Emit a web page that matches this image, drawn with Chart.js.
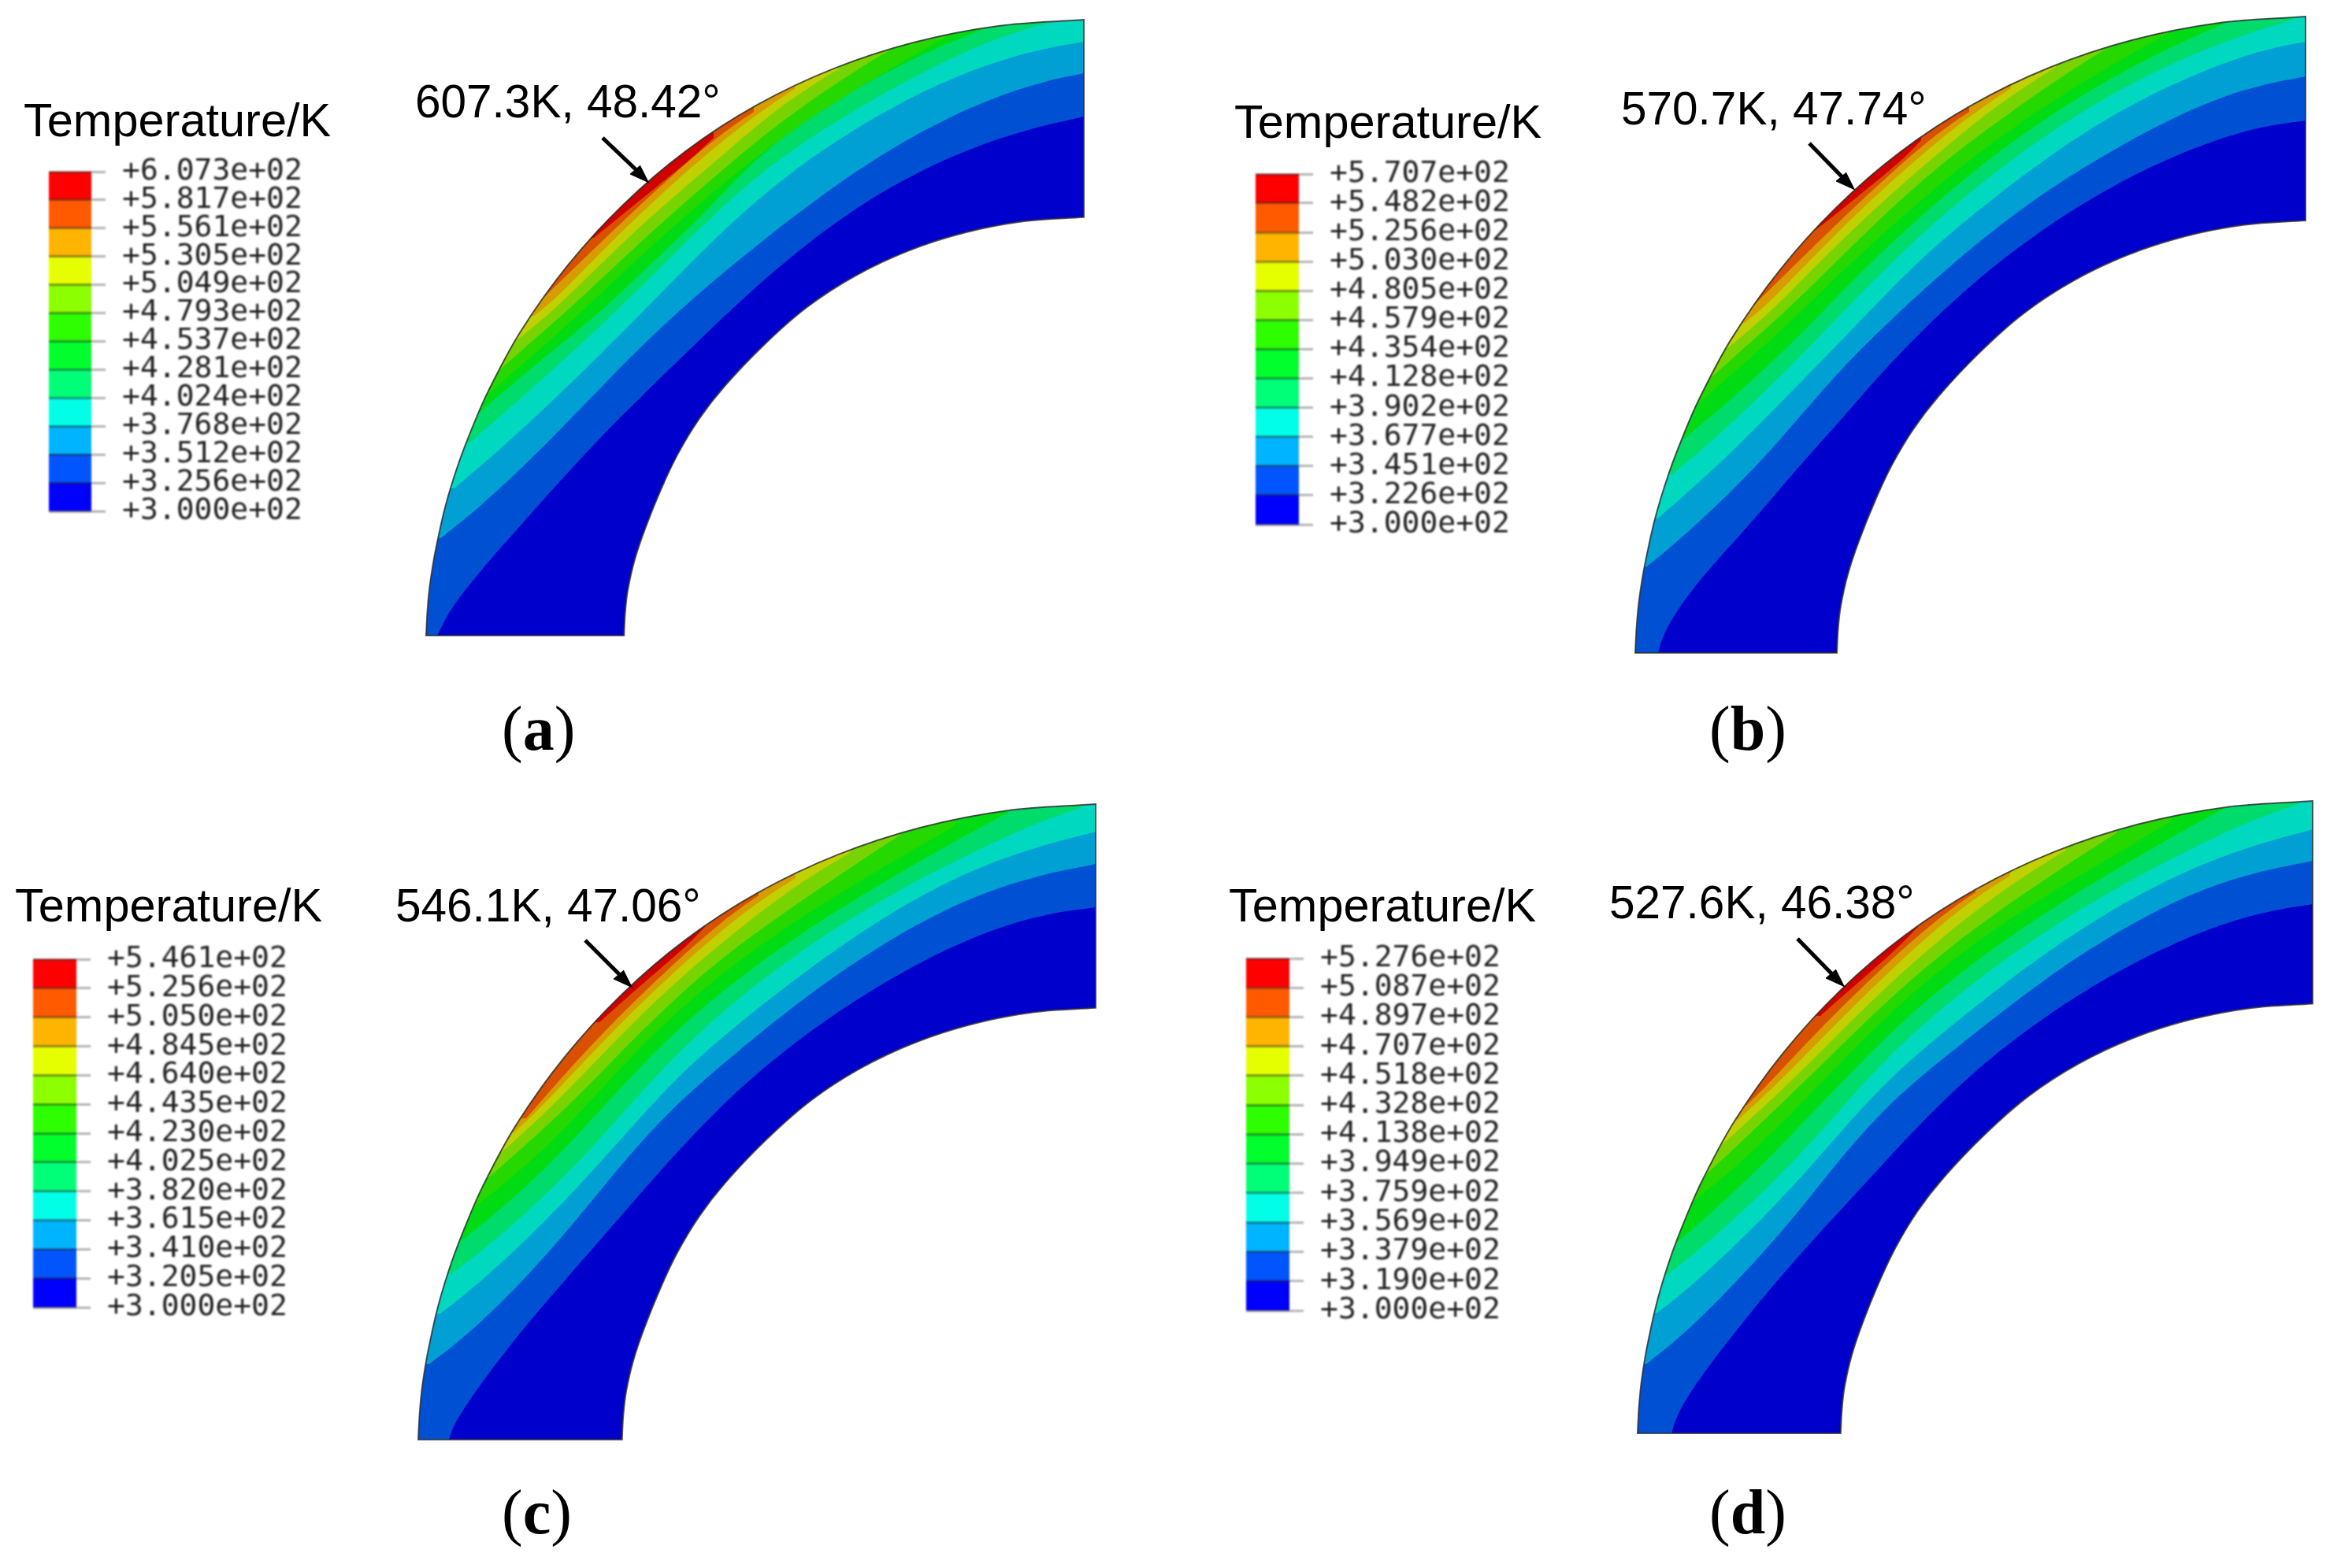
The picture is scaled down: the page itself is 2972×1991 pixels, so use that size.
<!DOCTYPE html>
<html><head><meta charset="utf-8">
<style>
html,body{margin:0;padding:0;background:#fff;width:2972px;height:1991px;overflow:hidden}
canvas{position:absolute}
.ring{filter:blur(.6px)}
.leg{filter:blur(.8px)}
.t{position:absolute;white-space:nowrap;line-height:1;color:#000;font-family:"Liberation Sans",Arial,sans-serif}
.cap{position:absolute;white-space:nowrap;line-height:1;color:#000;font-family:"Liberation Serif",serif;font-size:80px}
.cap b{font-weight:700}
</style>
<script src="https://cdn.jsdelivr.net/npm/chart.js@4"></script>
</head><body>
<script>
// Legend levels (K)
const levelsA=[300.0,325.6,351.2,376.8,402.4,428.1,453.7,479.3,504.9,530.5,556.1,581.7,607.3];
const levelsB=[300.0,322.6,345.1,367.7,390.2,412.8,435.4,457.9,480.5,503.0,525.6,548.2,570.7];
const levelsC=[300.0,320.5,341.0,361.5,382.0,402.5,423.0,443.5,464.0,484.5,505.0,525.6,546.1];
const levelsD=[300.0,319.0,337.9,356.9,375.9,394.9,413.8,432.8,451.8,470.7,489.7,508.7,527.6];
const legendColors=['#0000ff','#0055ff','#00b4ff','#00ffe6','#00ff78','#00ff2d','#2dff00','#8cff00','#e6ff00','#ffb400','#ff5a00','#ff0000'];
const bandColors=['#0000cc','#0050d4','#00a0d4','#00d8c0','#00dc6c','#00dc14','#24d800','#78d400','#c0d000','#d89c00','#d85000','#d00000'];

// Ring section outline, measured on panel (b): distance left of right edge, height above base
const outerArc=[[851,0],[849.5,30],[847,59],[843,88],[838,116],[826,170],[809,226],[790,276],[770,322],[728.5,399.4],[667.3,486.2],[595.7,565.6],[514.2,636.2],[423.2,695.9],[324.4,743.5],[219.6,778.3],[110.9,799.8],[0,808]];
const innerArc=[[595,0],[593.5,30],[590,60],[581,100],[567,142],[547,192],[526,237],[498,284],[465,327],[413.6,381.6],[358.2,430.8],[295.4,472.1],[226.7,504.9],[153.5,528.7],[77.5,543.4],[0,549]];

// Isotherms: contour between band i and band i+1, bottom-left to top-right
const contoursA=[
 [[821,0],[821,20],[776,74],[709,144],[663,200],[609,260],[559,307],[509,350],[463,407],[366,487],[303,540],[223,587],[136,625],[69,647],[0,659]],
 [[816,124],[776,154],[709,210],[626,304],[559,372],[523,407],[429,487],[336,559],[269,607],[183,657],[103,692],[36,709],[0,714]],
 [[799,187],[743,230],[676,297],[593,377],[563,407],[500,473],[436,540],[369,594],[303,637],[236,677],[169,710],[103,735],[36,750],[0,754]],
 [[781,244],[743,274],[676,337],[596,407],[549,454],[476,530],[436,570],[369,620],[303,664],[203,717],[136,752],[69,775],[36,779],[14,785]],
 [[766,284],[726,320],[689,350],[643,387],[616,407],[579,444],[539,484],[497,519],[448,567],[436,594],[369,647],[303,690],[236,724],[153,764],[103,779]],
 [[757,306],[726,335],[687,364],[647,403],[602,444],[551,496],[497,538],[465,570],[416,609],[367,645],[301,689],[235,725],[196,749],[171,762]],
 [[741,338],[713,364],[681,389],[647,422],[618,444],[559,509],[497,556],[465,585],[416,631],[367,665],[318,699],[269,732],[242,746]],
 [[720,375],[694,396],[667,418],[638,444],[569,523],[497,576],[465,602],[416,650],[383,674],[350,696],[311,720]],
 [[698,406],[677,418],[654,444],[577,529],[497,596],[465,623],[432,650],[399,674],[367,694]],
 [[689,426],[667,444],[589,528],[497,607],[465,635],[441,650],[419,665]],
 [[622,505],[600,522],[575,545],[543,568],[509,597],[485,617],[470,632]]
];
const contoursB=[
 [[822,0],[822,12],[810,39],[780,82],[750,116],[714,152],[680,192],[654,226],[624,259],[594,289],[564,326],[537,359],[500,396],[440,456],[390,499],[340,532],[290,569],[240,596],[190,622],[140,642],[90,662],[40,673],[0,676]],
 [[837,109],[817,122],[767,169],[717,216],[680,252],[634,312],[594,356],[557,396],[517,429],[490,459],[457,486],[407,529],[357,569],[307,602],[240,642],[174,679],[107,709],[57,724],[0,732]],
 [[822,171],[790,199],[747,236],[700,282],[660,326],[617,366],[580,409],[534,451],[507,486],[457,529],[407,569],[340,622],[274,669],[207,706],[140,736],[74,762],[40,770],[0,776]],
 [[805,226],[767,256],[734,286],[690,329],[650,366],[617,402],[580,442],[560,459],[507,517],[457,559],[407,602],[340,652],[274,696],[207,732],[157,754],[107,776],[57,792],[24,801],[14,805]],
 [[789,272],[750,302],[707,342],[667,379],[627,416],[590,459],[549,500],[507,536],[457,586],[407,622],[340,676],[274,716],[207,752],[157,776],[114,796],[97,801]],
 [[772,316],[740,346],[700,376],[660,416],[627,446],[614,459],[562,512],[507,556],[474,589],[424,629],[374,666],[307,712],[240,749],[200,774],[174,787]],
 [[755,349],[727,376],[694,402],[660,436],[630,459],[570,526],[507,582],[474,612],[424,652],[374,687],[324,722],[274,756],[247,771]],
 [[734,387],[707,409],[680,432],[650,459],[580,540],[507,599],[474,627],[424,672],[390,696],[357,719],[317,744]],
 [[712,419],[690,432],[667,459],[588,546],[507,616],[474,644],[440,672],[407,696],[374,717]],
 [[702,440],[680,459],[600,545],[507,627],[474,656],[450,672],[427,687]],
 [[622,537],[590,560],[560,588],[530,611],[500,634],[488,651]]
];
const contoursC=[
 [[821,0],[821,8],[811,28],[788,61],[754,108],[714,158],[671,205],[631,251],[594,295],[564,328],[524,375],[488,411],[444,456],[394,496],[344,533],[294,566],[244,596],[178,630],[111,660],[44,673],[0,676]],
 [[846,96],[811,118],[771,158],[728,201],[688,241],[638,305],[584,375],[544,415],[498,458],[461,486],[411,530],[344,583],[278,626],[211,666],[144,696],[78,721],[0,731]],
 [[832,160],[811,175],[771,208],[728,248],[688,288],[651,328],[611,371],[571,418],[534,458],[511,480],[461,523],[394,576],[344,613],[278,660],[211,700],[144,730],[78,756],[0,772]],
 [[818,210],[771,245],[728,281],[684,325],[644,365],[604,408],[564,458],[511,515],[444,570],[378,620],[311,663],[244,703],[178,735],[111,768],[61,790],[18,803]],
 [[804,253],[761,288],[721,321],[681,361],[638,408],[594,458],[552,500],[511,543],[444,593],[378,643],[311,683],[244,723],[178,760],[128,788],[111,796]],
 [[789,295],[748,325],[708,361],[664,401],[618,458],[565,514],[511,563],[461,603],[411,640],[344,683],[278,723],[211,760],[178,780]],
 [[774,330],[738,361],[701,395],[664,428],[634,458],[573,526],[511,583],[461,623],[411,660],[344,703],[278,750],[248,768]],
 [[754,365],[721,395],[684,428],[654,458],[582,541],[511,603],[461,640],[411,683],[378,706],[344,726],[311,746]],
 [[738,390],[704,418],[671,458],[591,547],[511,616],[478,643],[444,673],[411,695],[381,713]],
 [[723,408],[698,435],[681,458],[596,554],[511,626],[478,656],[451,676],[428,691]],
 [[630,530],[596,560],[566,588],[536,612],[511,633],[495,652]]
];
const contoursD=[
 [[814,0],[813,13],[801,40],[771,80],[738,123],[701,170],[664,213],[628,253],[591,293],[554,330],[518,377],[481,407],[444,450],[394,490],[344,527],[294,560],[244,590],[178,623],[111,653],[44,668],[0,672]],
 [[846,88],[811,113],[771,150],[728,197],[688,240],[654,277],[618,327],[581,373],[544,413],[494,460],[461,480],[411,523],[344,577],[278,620],[211,660],[144,692],[78,717],[0,727]],
 [[832,153],[804,173],[771,203],[728,243],[684,287],[644,330],[604,377],[571,417],[528,460],[511,473],[461,517],[394,570],[344,607],[278,653],[211,692],[144,723],[78,750],[0,767]],
 [[818,202],[771,237],[728,277],[684,320],[644,360],[604,403],[561,460],[511,508],[444,563],[378,613],[311,657],[244,697],[178,730],[111,765],[61,787],[18,799]],
 [[806,243],[761,283],[721,317],[681,357],[634,410],[583,460],[548,499],[511,533],[444,590],[378,637],[311,680],[244,720],[178,757],[144,778],[114,792]],
 [[788,293],[748,323],[708,360],[664,403],[608,460],[562,512],[511,557],[461,600],[411,637],[344,680],[278,720],[211,757],[178,778]],
 [[771,328],[734,360],[698,397],[661,433],[628,460],[570,524],[511,577],[461,617],[411,657],[344,700],[278,745],[248,763]],
 [[751,365],[714,400],[681,430],[644,460],[578,536],[511,597],[461,637],[411,678],[378,700],[344,722],[314,740]],
 [[731,397],[698,425],[661,460],[586,544],[511,612],[478,640],[444,670],[411,692],[384,708]],
 [[718,417],[694,438],[676,460],[594,552],[511,623],[478,653],[451,672],[428,687]],
 [[625,530],[592,560],[562,585],[532,612],[511,630],[495,650]]
];
// Arrow tail and tip in each panel
const arrowA=[[611,632],[552,575]], arrowB=[[630,647],[572,588]], arrowC=[[648,634],[588,574]], arrowD=[[654,628],[594,567]];
const arrowHeadOffsets=[[24,11],[11,22]];

const panels=[
 {name:'a',levels:levelsA,contours:contoursA,arrow:arrowA,cx:1376,cy:807,W:835,H:782,titleX:30,titleY:173,barX:62,barW:54,top:218,bottom:649,noteText:'607.3K, 48.42°',noteX:527,noteY:150,capX:637,capY:952},
 {name:'b',levels:levelsB,contours:contoursB,arrow:arrowB,cx:2927,cy:829,W:851,H:808,titleX:1567,titleY:175,barX:1594,barW:55,top:221,bottom:666,noteText:'570.7K, 47.74°',noteX:2058,noteY:159,capX:2170,capY:952},
 {name:'c',levels:levelsC,contours:contoursC,arrow:arrowC,cx:1391,cy:1828,W:860,H:807,titleX:19,titleY:1170,barX:42,barW:55,top:1218,bottom:1660,noteText:'546.1K, 47.06°',noteX:502,noteY:1171,capX:637,capY:1947},
 {name:'d',levels:levelsD,contours:contoursD,arrow:arrowD,cx:2936,cy:1820,W:857,H:803,titleX:1560,titleY:1170,barX:1582,barW:55,top:1217,bottom:1664,noteText:'527.6K, 46.38°',noteX:2043,noteY:1167,capX:2170,capY:1947}
];

const M=130, REF_W=851, REF_H=808;
const pt=([x,y])=>({x,y});
function addCanvas(left,top,w,h,cls){
  const c=document.createElement('canvas');
  c.width=w;c.height=h;c.className=cls;
  c.style.cssText=`left:${left}px;top:${top}px;width:${w}px;height:${h}px`;
  document.body.appendChild(c);return c;
}
function addText(cls,x,y,html,k,size){
  const d=document.createElement('div');d.className=cls;d.innerHTML=html;
  d.style.fontSize=size+'px';
  d.style.left=x+'px';d.style.top=(y-k*size)+'px';document.body.appendChild(d);
}
// Takes the reading noise out of hand-read contour points; end points stay where they were read
function denoise(c){
  let p=c;
  for(let n=0;n<2;n++){
    p=p.map((q,i)=>(i===0||i===p.length-1)?q:[(p[i-1][0]+2*q[0]+p[i+1][0])/4,(p[i-1][1]+2*q[1]+p[i+1][1])/4]);
  }
  return p;
}
// Clip the isotherm bands to the ring, then trace its edge
const ringClip={id:'ringClip',
  afterDatasetDraw(chart,args){
    if(args.index!==chart.data.datasets.length-1)return;
    const p=new Path2D();chart.getDatasetMeta(args.index).dataset.path(p);p.closePath();
    chart.$ringPath=p;chart.ctx.save();chart.ctx.clip(p);
  },
  beforeDatasetDraw(chart,args){
    if(args.index!==1)return;
    chart.ctx.restore();
    chart.ctx.save();chart.ctx.strokeStyle='rgba(50,50,50,.8)';chart.ctx.lineWidth=2;chart.ctx.stroke(chart.$ringPath);chart.ctx.restore();
  }};

panels.forEach(P=>{
  // Ring + bands + arrow
  const sx=P.W/REF_W, sy=P.H/REF_H;
  const scaled=a=>a.map(([x,y])=>[x*sx,y*sy]);
  const o=scaled(outerArc), i=scaled(innerArc).reverse();
  const ring=[o[0],...o,o[o.length-1],i[0],...i,i[i.length-1]].map(pt);
  const band=raw=>{
    const c=denoise(raw);
    const f=c[0],l=c[c.length-1],R=P.W+100,T=P.H+100;
    const a=[l[0],T],b=[R,T],d=[R,f[1]];
    return [f,...c,l,a,a,b,b,d,d,f].map(pt);
  };
  const ds=[];
  const [tail,tip]=P.arrow;
  const head=[tip,[tip[0]+arrowHeadOffsets[0][0],tip[1]+arrowHeadOffsets[0][1]],[tip[0]+arrowHeadOffsets[1][0],tip[1]+arrowHeadOffsets[1][1]]];
  ds.push({data:head.map(pt),showLine:true,fill:'shape',backgroundColor:'#000',borderColor:'#000',borderWidth:1,pointRadius:0,tension:0});
  ds.push({data:[tail,[tip[0]+16,tip[1]+16]].map(pt),showLine:true,fill:false,borderColor:'#000',borderWidth:5,pointRadius:0,tension:0});
  for(let k=P.contours.length-1;k>=0;k--){
    ds.push({data:band(P.contours[k]),showLine:true,fill:'shape',backgroundColor:bandColors[k+1],borderWidth:0,pointRadius:0,tension:.4});
  }
  ds.push({data:ring,showLine:true,fill:'shape',backgroundColor:bandColors[0],borderWidth:0,pointRadius:0,tension:.35});
  const cv=addCanvas(P.cx-P.W-M,P.cy-P.H-M,P.W+2*M,P.H+2*M,'ring');
  new Chart(cv,{type:'scatter',data:{datasets:ds},plugins:[ringClip],options:{
    responsive:false,animation:false,devicePixelRatio:1,layout:{padding:0},
    plugins:{legend:{display:false},tooltip:{enabled:false}},
    scales:{
      x:{type:'linear',display:false,reverse:true,min:-M,max:P.W+M},
      y:{type:'linear',display:false,min:-M,max:P.H+M}
    }}});

  // Legend colour bar
  const PAD=25, AX=300;
  const lc=addCanvas(P.barX,P.top-PAD,P.barW+AX,P.bottom-P.top+2*PAD,'leg');
  const lv=P.levels;
  new Chart(lc,{type:'bar',data:{labels:['T'],datasets:legendColors.map((col,k)=>({
      data:[[lv[k],lv[k+1]]],backgroundColor:col,borderWidth:0,borderSkipped:false,barPercentage:1,categoryPercentage:1,grouped:false}))},
    options:{responsive:false,animation:false,devicePixelRatio:1,
      layout:{padding:{top:PAD,bottom:PAD,left:0,right:0}},
      plugins:{legend:{display:false},tooltip:{enabled:false}},
      scales:{
        x:{display:false,stacked:true},
        y:{position:'right',min:lv[0],max:lv[12],
          afterBuildTicks:a=>{a.ticks=lv.map(v=>({value:v}))},
          afterFit:a=>{a.width=AX;a.paddingTop=0;a.paddingBottom=0},
          border:{display:false},
          grid:{z:1,color:'rgba(40,40,40,.45)',lineWidth:3,tickColor:'#b4b4b4',tickWidth:3,tickLength:18},
          ticks:{autoSkip:false,padding:21,color:'#222',font:{family:'"DejaVu Sans Mono"',size:38},
            callback:v=>{const [m,e]=Number(v).toExponential(3).split('e');return '+'+m+'e+'+e.replace('+','').padStart(2,'0')}}
        }}}});

  addText('t',P.titleX,P.titleY,'Temperature/K',.8465,59.5);
  addText('t',P.noteX,P.noteY,P.noteText,.8465,58.5);
  addText('cap',P.capX,P.capY,'(<b>'+P.name+'</b>)',.8375,80);
});
</script>
</body></html>
